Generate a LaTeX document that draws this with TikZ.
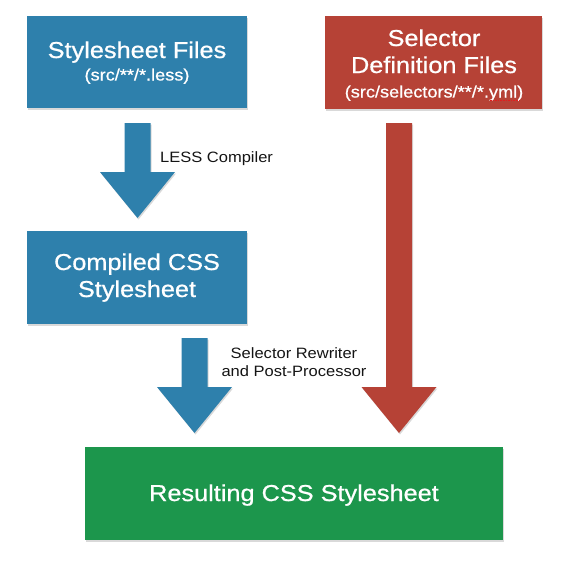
\documentclass[tikz,border=0pt]{standalone}
\usepackage{fontspec}
\setmainfont{Liberation Sans}[FakeStretch=1.1]
\newfontfamily\boxfont{Liberation Sans}[FakeStretch=1.1,FakeBold=0.7]
\usetikzlibrary{shadows,calc}
\definecolor{boxblue}{RGB}{46,128,172}
\definecolor{boxred}{RGB}{182,66,54}
\definecolor{boxgreen}{RGB}{28,150,76}
\definecolor{labeltxt}{RGB}{20,20,20}
\definecolor{spellred}{RGB}{225,30,30}
\tikzset{
  shadowed/.style={drop shadow={opacity=0.3,shadow xshift=1pt,shadow yshift=-1.5pt}},
  boxnode/.style={draw=none,inner sep=0pt,outer sep=0pt,anchor=north west,shadowed},
  titletxt/.style={anchor=base,inner sep=0pt,text=white,font=\boxfont\fontsize{23}{27}\selectfont},
  subtxt/.style={anchor=base,inner sep=0pt,text=white,font=\boxfont\fontsize{16.5}{20}\selectfont},
  labeltext/.style={inner sep=0pt,text=labeltxt,font=\fontsize{15}{18}\selectfont},
}
\newcommand\fatarrow[4]{%
  \fill[#1,shadowed] ({#2-13},#3) -- ({#2+13},#3) -- ({#2+13},{#4-46}) -- ({#2+37.5},{#4-46})
    -- (#2,#4) -- ({#2-37.5},{#4-46}) -- ({#2-13},{#4-46}) -- cycle;}
\begin{document}
\begin{tikzpicture}[x=1pt,y=-1pt]
\useasboundingbox (0,0) rectangle (568,563);
% boxes
\node[boxnode,fill=boxblue,minimum width=220pt,minimum height=92pt] (ss) at (27,16) {};
\node[boxnode,fill=boxred,minimum width=217pt,minimum height=93pt] (sel) at (325,16) {};
\node[boxnode,fill=boxblue,minimum width=220pt,minimum height=93pt] (css) at (27,231) {};
\node[boxnode,fill=boxgreen,minimum width=418pt,minimum height=93pt] (res) at (85,447) {};
% box texts
\node[titletxt] (ssA) at (137,58) {Stylesheet Files};
\node[subtxt] (ssB) at (137,80.5) {(src/**/*.less)};
\node[titletxt] (selA) at (434,46) {Selector};
\node[titletxt] (selB) at (434,73) {Definition Files};
\node[subtxt] (selC) at (434,97.5) {(src/selectors/**/*.yml)};
\draw[spellred,line width=0.9pt,dash pattern=on 1.6pt off 1pt] (490,100.5) -- (519,100.5);
\node[titletxt] (cssA) at (137,270) {Compiled CSS};
\node[titletxt] (cssB) at (137,297) {Stylesheet};
\node[titletxt] (resA) at (294,501) {Resulting CSS Stylesheet};
% arrows
\fatarrow{boxblue}{137.5}{123}{218}
\fatarrow{boxblue}{194.5}{338}{433}
\fatarrow{boxred}{399}{123}{433}
% labels
\node[labeltext,anchor=base west] (l1) at (160,162) {LESS Compiler};
\node[labeltext,anchor=base] (l2a) at (294,358) {Selector Rewriter};
\node[labeltext,anchor=base] (l2b) at (294,376) {and Post-Processor};
\end{tikzpicture}
\end{document}
